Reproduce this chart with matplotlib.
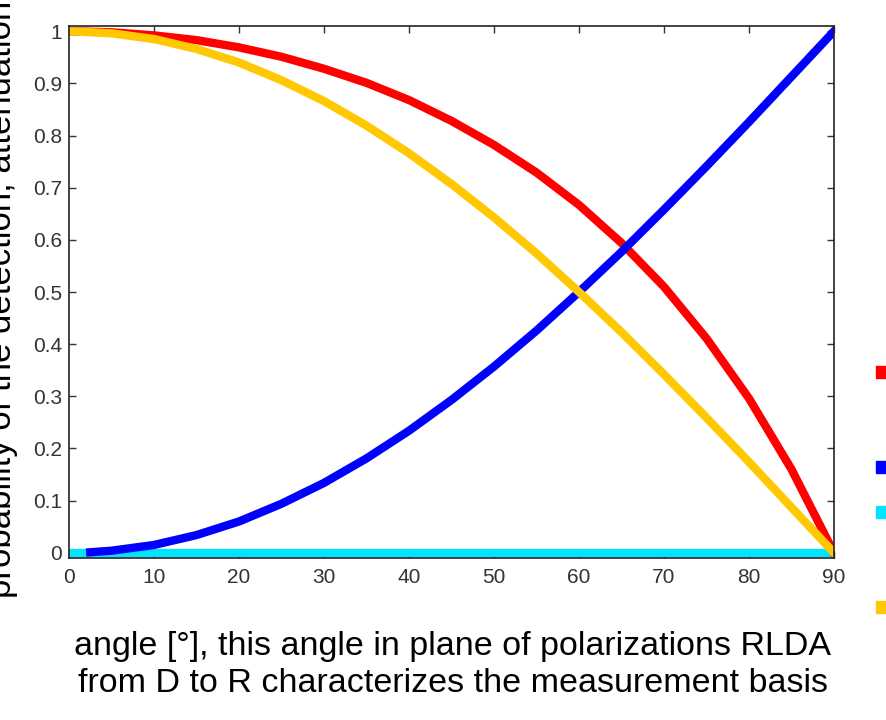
import matplotlib
matplotlib.use("Agg")
import matplotlib.pyplot as plt
from matplotlib.lines import Line2D

# angle in degrees
angle = [0, 5, 10, 15, 20, 25, 30, 35, 40, 45, 50, 55, 60, 65, 70, 75, 80, 85, 90]
red_vals = [1.0, 0.998, 0.992, 0.983, 0.969, 0.951, 0.928, 0.901, 0.868, 0.828,
            0.782, 0.729, 0.667, 0.594, 0.510, 0.411, 0.296, 0.160, 0.0]
yellow_vals = [1.0, 0.996, 0.985, 0.966, 0.940, 0.906, 0.866, 0.819, 0.766, 0.707,
               0.643, 0.574, 0.500, 0.423, 0.342, 0.259, 0.174, 0.087, 0.0]
blue_angle = [2.5, 5, 10, 15, 20, 25, 30, 35, 40, 45, 50, 55, 60, 65, 70, 75, 80, 85, 90]
blue_vals = [0.001, 0.004, 0.015, 0.034, 0.060, 0.094, 0.134, 0.181, 0.234, 0.293,
             0.357, 0.426, 0.500, 0.577, 0.658, 0.741, 0.826, 0.913, 1.0]
cyan_vals = [0.0] * len(angle)

xticks = [0, 10, 20, 30, 40, 50, 60, 70, 80, 90]
yticks = [0, 0.1, 0.2, 0.3, 0.4, 0.5, 0.6, 0.7, 0.8, 0.9, 1]
ytick_labels = ["0", "0.1", "0.2", "0.3", "0.4", "0.5", "0.6", "0.7", "0.8", "0.9", "1"]

xlabel_lines = ["angle [°], this angle in plane of polarizations RLDA",
                "from D to R characterizes the measurement basis"]
ylabel = "probability of the detection, attenuation"

RED = "#ff0000"
BLUE = "#0000ff"
CYAN = "#00e5ff"
YELLOW = "#ffc800"

plt.rcParams['font.family'] = ['Liberation Sans', 'DejaVu Sans']

fig = plt.figure(figsize=(8.87, 7.2), dpi=100)
ax = fig.add_axes([69 / 887, 1 - 558 / 720, (834 - 69) / 887, (558 - 26) / 720])

lw = 6
ax.plot(angle, cyan_vals, color=CYAN, lw=lw, solid_capstyle="butt")
ax.plot(angle, red_vals, color=RED, lw=lw)
ax.plot(blue_angle, blue_vals, color=BLUE, lw=lw)
ax.plot(angle, yellow_vals, color=YELLOW, lw=lw)

ax.set_xlim(0, 90)
ax.set_ylim(-0.01, 1.01)
ax.set_xticks(xticks)
ax.set_yticks(yticks)
ax.set_yticklabels(ytick_labels)
ax.tick_params(direction="in", length=5, width=1, top=True, right=True,
               labelsize=15, labelcolor="#333333", colors="#333333")
ax.tick_params(axis="x", pad=7)
ax.tick_params(axis="y", pad=5)
for sp in ax.spines.values():
    sp.set_linewidth(1.2)
    sp.set_color("#222222")

# two-line x label, each line on its own baseline
for line, base in zip(xlabel_lines, [655, 692]):
    fig.text(453 / 887, 1 - base / 720, line, ha="center", va="baseline", fontsize=24.5)

fig.text(18 / 887, 122 / 720, ylabel, rotation=90, ha="right", va="bottom", fontsize=25)

# cropped legend keys at the right edge
for yc, col in [(372, RED), (467, BLUE), (512, CYAN), (607, YELLOW)]:
    fig.add_artist(Line2D([882.5 / 887], [1 - yc / 720], marker="s", markersize=8,
                          color=col, transform=fig.transFigure, clip_on=False))

fig.savefig("out.png", dpi=100)
